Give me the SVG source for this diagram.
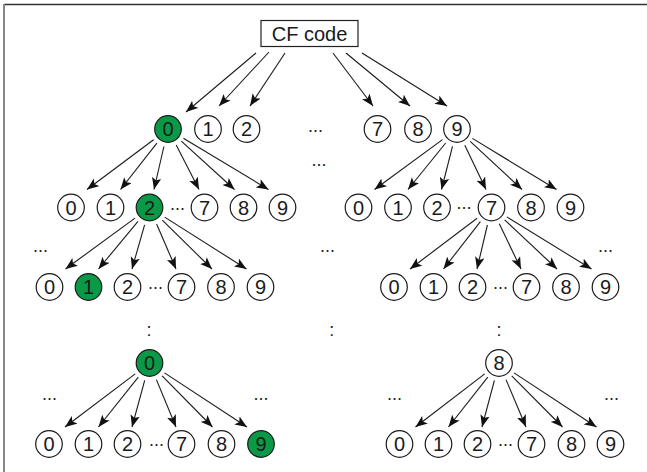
<svg xmlns="http://www.w3.org/2000/svg" width="647" height="472" viewBox="0 0 647 472">
<style>
.node circle{fill:#fff;stroke:#1a1a1a;stroke-width:1.2}
.node.g circle{fill:#0a9a47}
.node text{font-family:"Liberation Sans",Arial,sans-serif;font-size:20px;fill:#1a1a1a;text-anchor:middle}
.box rect{fill:#fff;stroke:#222;stroke-width:1.2}
.box text{font-family:"Liberation Sans",Arial,sans-serif;font-size:20px;fill:#1a1a1a;text-anchor:middle}
.dots{font-family:"Liberation Sans",Arial,sans-serif;font-size:18px;fill:#222;text-anchor:middle}
#edges line{stroke:#1a1a1a;stroke-width:1.1;marker-end:url(#ah)}
</style>
<defs>
<marker id="ah" markerUnits="userSpaceOnUse" markerWidth="13" markerHeight="10" refX="12" refY="4.75" orient="auto">
<path d="M0,0 L12,4.75 L0,9.5 L2.8,4.75 z" fill="#111"/>
</marker>
</defs>
<rect width="647" height="472" fill="#fff"/>
<line x1="4" y1="4.5" x2="647" y2="4.5" stroke="#333" stroke-width="1.3"/>
<line x1="4" y1="4" x2="4" y2="472" stroke="#888" stroke-width="2"/>

<g id="edges">
<line x1="256" y1="53" x2="186" y2="112"/>
<line x1="269" y1="52" x2="219" y2="106"/>
<line x1="285" y1="53" x2="250" y2="106"/>
<line x1="333" y1="53" x2="373" y2="106"/>
<line x1="346" y1="53" x2="410" y2="106"/>
<line x1="362" y1="53" x2="447" y2="106"/>

<line x1="153.6" y1="139.8" x2="87" y2="189.5"/>
<line x1="156.9" y1="143.2" x2="120.5" y2="189.5"/>
<line x1="163.9" y1="146.5" x2="154" y2="189.5"/>
<line x1="176.2" y1="145" x2="199" y2="189.5"/>
<line x1="181.3" y1="141.1" x2="234.5" y2="189.5"/>
<line x1="183.4" y1="138.3" x2="268.5" y2="189.5"/>

<line x1="442.5" y1="139.6" x2="374.5" y2="189.5"/>
<line x1="445.7" y1="143" x2="408" y2="189.5"/>
<line x1="452.5" y1="146.4" x2="441.5" y2="189.5"/>
<line x1="464.8" y1="145.2" x2="486" y2="189.5"/>
<line x1="470.2" y1="141.3" x2="522" y2="189.5"/>
<line x1="472.4" y1="138.4" x2="556.5" y2="189.5"/>

<line x1="135" y1="218.1" x2="65.5" y2="269"/>
<line x1="138" y1="221.4" x2="98.5" y2="269"/>
<line x1="144.6" y1="224.8" x2="132" y2="269"/>
<line x1="156.6" y1="224" x2="176" y2="269"/>
<line x1="162.3" y1="220.1" x2="212" y2="269"/>
<line x1="164.7" y1="217.1" x2="246.5" y2="269"/>

<line x1="477.1" y1="218.3" x2="410" y2="269"/>
<line x1="480.4" y1="221.7" x2="443.5" y2="269"/>
<line x1="487.4" y1="225" x2="477" y2="269"/>
<line x1="499.3" y1="223.7" x2="521" y2="269"/>
<line x1="504.6" y1="219.8" x2="557" y2="269"/>
<line x1="506.8" y1="216.9" x2="591.5" y2="269"/>

<line x1="135.2" y1="373.9" x2="65" y2="427"/>
<line x1="138.3" y1="377.1" x2="98.5" y2="427"/>
<line x1="144.7" y1="380.4" x2="132" y2="427"/>
<line x1="156.4" y1="379.6" x2="176" y2="427"/>
<line x1="162.1" y1="375.8" x2="212.5" y2="427"/>
<line x1="164.5" y1="372.9" x2="247" y2="427"/>

<line x1="484.7" y1="373.9" x2="415.5" y2="427"/>
<line x1="487.8" y1="377.1" x2="448.5" y2="427"/>
<line x1="494.4" y1="380.4" x2="482" y2="427"/>
<line x1="506" y1="379.6" x2="526" y2="427"/>
<line x1="511.7" y1="375.8" x2="562.5" y2="427"/>
<line x1="514" y1="372.9" x2="596.5" y2="427"/>
</g>

<g id="cf" class="box"><rect x="261" y="20.5" width="97" height="26"/><text x="309.5" y="40.5">CF code</text></g>

<g id="r1_0" class="node g"><circle cx="168" cy="129" r="13.3"/><text x="168" y="136">0</text></g>
<g id="r1_1" class="node"><circle cx="208" cy="129" r="13.3"/><text x="208" y="136">1</text></g>
<g id="r1_2" class="node"><circle cx="246.5" cy="129" r="13.3"/><text x="246.5" y="136">2</text></g>
<g id="r1_7" class="node"><circle cx="377.5" cy="129" r="13.3"/><text x="377.5" y="136">7</text></g>
<g id="r1_8" class="node"><circle cx="418" cy="129" r="13.3"/><text x="418" y="136">8</text></g>
<g id="r1_9" class="node"><circle cx="457" cy="129" r="13.3"/><text x="457" y="136">9</text></g>

<g id="r2L_0" class="node"><circle cx="71" cy="207.5" r="13.3"/><text x="71" y="214.5">0</text></g>
<g id="r2L_1" class="node"><circle cx="110.5" cy="207.5" r="13.3"/><text x="110.5" y="214.5">1</text></g>
<g id="r2L_2" class="node g"><circle cx="149.5" cy="207.5" r="13.3"/><text x="149.5" y="214.5">2</text></g>
<g id="r2L_7" class="node"><circle cx="204.5" cy="207.5" r="13.3"/><text x="204.5" y="214.5">7</text></g>
<g id="r2L_8" class="node"><circle cx="243.5" cy="207.5" r="13.3"/><text x="243.5" y="214.5">8</text></g>
<g id="r2L_9" class="node"><circle cx="282.5" cy="207.5" r="13.3"/><text x="282.5" y="214.5">9</text></g>

<g id="r2R_0" class="node"><circle cx="358.5" cy="207.5" r="13.3"/><text x="358.5" y="214.5">0</text></g>
<g id="r2R_1" class="node"><circle cx="398" cy="207.5" r="13.3"/><text x="398" y="214.5">1</text></g>
<g id="r2R_2" class="node"><circle cx="437" cy="207.5" r="13.3"/><text x="437" y="214.5">2</text></g>
<g id="r2R_7" class="node"><circle cx="491.5" cy="207.5" r="13.3"/><text x="491.5" y="214.5">7</text></g>
<g id="r2R_8" class="node"><circle cx="531" cy="207.5" r="13.3"/><text x="531" y="214.5">8</text></g>
<g id="r2R_9" class="node"><circle cx="570.5" cy="207.5" r="13.3"/><text x="570.5" y="214.5">9</text></g>

<g id="r3L_0" class="node"><circle cx="49.5" cy="287" r="13.3"/><text x="49.5" y="294">0</text></g>
<g id="r3L_1" class="node g"><circle cx="88.5" cy="287" r="13.3"/><text x="88.5" y="294">1</text></g>
<g id="r3L_2" class="node"><circle cx="127.5" cy="287" r="13.3"/><text x="127.5" y="294">2</text></g>
<g id="r3L_7" class="node"><circle cx="181.5" cy="287" r="13.3"/><text x="181.5" y="294">7</text></g>
<g id="r3L_8" class="node"><circle cx="221" cy="287" r="13.3"/><text x="221" y="294">8</text></g>
<g id="r3L_9" class="node"><circle cx="260.5" cy="287" r="13.3"/><text x="260.5" y="294">9</text></g>

<g id="r3R_0" class="node"><circle cx="394" cy="287" r="13.3"/><text x="394" y="294">0</text></g>
<g id="r3R_1" class="node"><circle cx="433.5" cy="287" r="13.3"/><text x="433.5" y="294">1</text></g>
<g id="r3R_2" class="node"><circle cx="472.5" cy="287" r="13.3"/><text x="472.5" y="294">2</text></g>
<g id="r3R_7" class="node"><circle cx="526.5" cy="287" r="13.3"/><text x="526.5" y="294">7</text></g>
<g id="r3R_8" class="node"><circle cx="566" cy="287" r="13.3"/><text x="566" y="294">8</text></g>
<g id="r3R_9" class="node"><circle cx="605.5" cy="287" r="13.3"/><text x="605.5" y="294">9</text></g>

<g id="r4L_0" class="node g"><circle cx="149.5" cy="363" r="13.3"/><text x="149.5" y="370">0</text></g>
<g id="r4R_8" class="node"><circle cx="499" cy="363" r="13.3"/><text x="499" y="370">8</text></g>

<g id="r5L_0" class="node"><circle cx="49" cy="444" r="13.3"/><text x="49" y="451">0</text></g>
<g id="r5L_1" class="node"><circle cx="88.5" cy="444" r="13.3"/><text x="88.5" y="451">1</text></g>
<g id="r5L_2" class="node"><circle cx="127.5" cy="444" r="13.3"/><text x="127.5" y="451">2</text></g>
<g id="r5L_7" class="node"><circle cx="181.5" cy="444" r="13.3"/><text x="181.5" y="451">7</text></g>
<g id="r5L_8" class="node"><circle cx="221.5" cy="444" r="13.3"/><text x="221.5" y="451">8</text></g>
<g id="r5L_9" class="node g"><circle cx="261" cy="444" r="13.3"/><text x="261" y="451">9</text></g>

<g id="r5R_0" class="node"><circle cx="399.5" cy="444" r="13.3"/><text x="399.5" y="451">0</text></g>
<g id="r5R_1" class="node"><circle cx="438.5" cy="444" r="13.3"/><text x="438.5" y="451">1</text></g>
<g id="r5R_2" class="node"><circle cx="477.5" cy="444" r="13.3"/><text x="477.5" y="451">2</text></g>
<g id="r5R_7" class="node"><circle cx="531.5" cy="444" r="13.3"/><text x="531.5" y="451">7</text></g>
<g id="r5R_8" class="node"><circle cx="571.5" cy="444" r="13.3"/><text x="571.5" y="451">8</text></g>
<g id="r5R_9" class="node"><circle cx="610.5" cy="444" r="13.3"/><text x="610.5" y="451">9</text></g>

<g id="ellipses">
<text class="dots" x="315.5" y="132">...</text>
<text class="dots" x="319" y="166">...</text>
<text class="dots" x="177.5" y="209.5">...</text>
<text class="dots" x="464" y="209">...</text>
<text class="dots" x="40.5" y="251.5">...</text>
<text class="dots" x="327.5" y="251.5">...</text>
<text class="dots" x="605.5" y="251.5">...</text>
<text class="dots" x="155.5" y="288.5">...</text>
<text class="dots" x="500.5" y="288.5">...</text>
<text class="dots" x="149" y="335.5">:</text>
<text class="dots" x="331.7" y="335.5">:</text>
<text class="dots" x="499" y="335.5">:</text>
<text class="dots" x="49.5" y="399.5">...</text>
<text class="dots" x="261" y="399.5">...</text>
<text class="dots" x="394.5" y="399.5">...</text>
<text class="dots" x="611.5" y="399.5">...</text>
<text class="dots" x="156.5" y="445.5">...</text>
<text class="dots" x="505.5" y="445.5">...</text>
</g>
</svg>
